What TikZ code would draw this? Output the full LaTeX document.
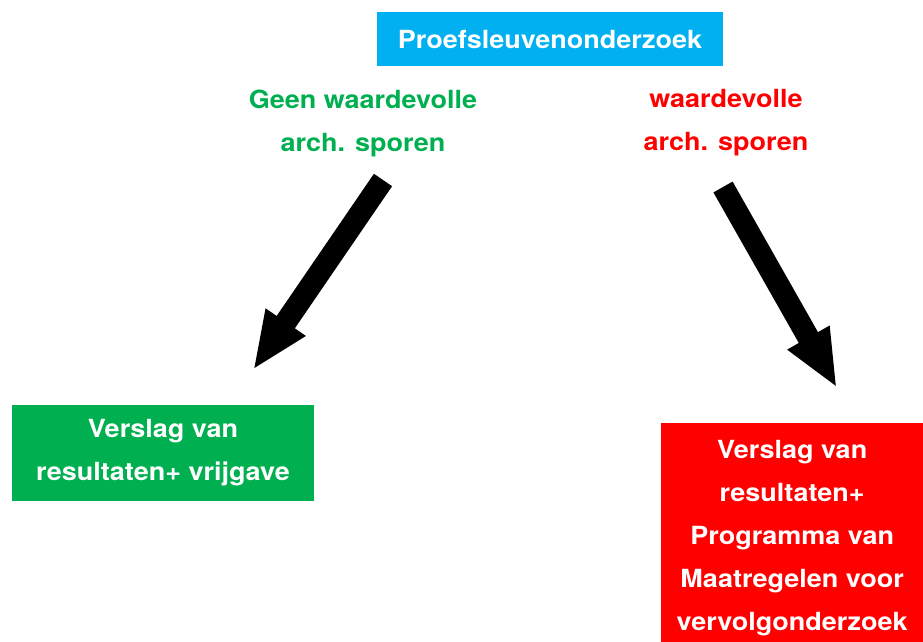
\documentclass[tikz,border=0pt]{standalone}
\usepackage{fontspec}
\setmainfont{TeX Gyre Heros}[FakeStretch=1.08]
\usepackage{xcolor}
\usetikzlibrary{positioning,arrows.meta}
\definecolor{kopblauw}{HTML}{00B0F0}
\definecolor{vrijgroen}{HTML}{00B050}
\definecolor{vervolgrood}{HTML}{FF0000}
\tikzset{
  blok/.style={inner sep=0pt,align=center,text=white,font=\bfseries\fontsize{25}{43}\selectfont},
  keuze/.style={inner sep=0pt,align=center,font=\bfseries\fontsize{25}{43}\selectfont},
  pijl/.style={line width=22pt,-{Triangle[width=44pt,length=58pt]}}
}
\begin{document}
\begin{tikzpicture}[x=1pt,y=-1pt]
            \useasboundingbox[fill=white] (0,0) rectangle (923,641);
            \node[blok,fill=kopblauw,minimum width=346pt,minimum height=54pt] (proef) at (550,39) {Proefsleuvenonderzoek};
            \node[keuze,text=vrijgroen] (geen) at (363,123) {Geen waardevolle\\arch. sporen};
            \node[keuze,text=vervolgrood] (wel) at (726,123) {waardevolle\\arch. sporen};
            \node[blok,fill=vrijgroen,minimum width=302pt,minimum height=96pt] (vrij) at (163,453) {Verslag van\\resultaten+ vrijgave};
            \node[blok,fill=vervolgrood,minimum width=262pt,minimum height=230pt,anchor=north west] (pva) at (661,423) {Verslag van\\resultaten+\\Programma van\\Maatregelen voor\\vervolgonderzoek};
            \coordinate (geenstart) at (383,180);
            \coordinate (geenpunt) at (253,370);
            \coordinate (welstart) at (723,187);
            \coordinate (welpunt) at (837,388);
            \draw[pijl] (geenstart) -- (geenpunt);
            \draw[pijl] (welstart) -- (welpunt);
        \end{tikzpicture}
\end{document}
